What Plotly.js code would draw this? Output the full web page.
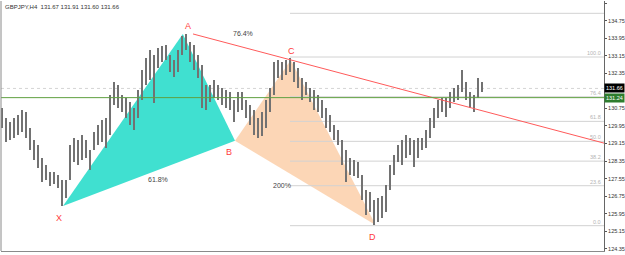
<!DOCTYPE html>
<html>
<head>
<meta charset="utf-8">
<script src="https://cdn.plot.ly/plotly-3.0.1.min.js"></script>
<style>html,body{margin:0;padding:0;background:#fff;}#chart{width:625px;height:255px;}</style>
</head>
<body>
<div id="chart"></div>
<script>
// ---- data ----
const titleText = 'GBPJPY,H4  131.67 131.91 131.60 131.66';
// 4-hour bar highs / lows (one entry per 4 px column of the reference)
const highs = [130.77,130.31,130.13,130.31,130.45,130.68,130.59,129.86,129.31,129.08,
  128.49,128.17,127.85,127.85,127.72,127.49,127.49,129.08,129.40,129.31,
  129.54,129.31,128.86,129.68,130.00,130.22,130.31,131.36,131.95,131.82,
  131.36,131.22,131.04,130.77,131.59,132.50,133.05,133.41,133.18,133.50,
  133.59,133.64,133.18,132.96,133.41,134.05,134.14,133.77,133.64,133.18,
  132.73,131.82,131.82,132.04,131.82,131.68,131.59,131.50,131.13,131.50,
  131.50,131.13,130.91,130.68,130.31,130.59,131.13,131.68,132.86,132.96,
  132.86,132.96,133.05,132.86,132.59,132.14,131.95,131.68,131.59,131.36,
  131.13,130.77,130.45,130.00,129.77,129.31,128.86,128.49,128.40,128.31,
  127.72,127.04,126.94,126.58,126.67,126.76,127.26,128.17,128.63,129.08,
  129.31,129.54,129.40,129.31,129.40,129.40,129.77,130.31,130.77,131.13,
  131.22,131.22,131.50,131.68,131.82,132.50,131.95,131.50,131.36,132.14,131.95];
const lows = [129.86,129.22,129.31,129.40,129.54,129.68,129.40,128.86,128.40,128.04,
  127.40,127.49,127.22,127.31,127.13,126.31,126.67,127.49,128.31,128.17,
  128.40,128.49,127.95,128.86,129.08,129.22,128.95,129.54,130.91,130.77,
  130.59,130.31,130.00,129.77,130.31,131.13,131.82,132.04,131.00,132.59,
  132.86,132.96,132.41,132.18,132.41,133.18,133.41,132.86,132.50,132.14,
  130.77,130.68,131.04,131.22,131.13,130.91,130.77,130.68,130.13,130.59,
  130.68,130.31,130.00,129.54,129.40,129.49,129.86,130.59,131.36,132.14,
  132.04,132.27,132.41,131.95,131.68,131.13,131.36,131.04,130.68,130.59,
  130.31,129.86,129.68,129.31,129.08,128.17,127.40,127.72,127.67,127.58,
  126.58,125.90,126.03,125.44,125.58,125.76,126.03,127.04,127.72,128.31,
  128.17,128.49,128.63,128.08,128.49,128.86,128.95,129.40,129.86,130.31,
  130.59,130.36,130.77,131.04,131.13,131.50,131.13,130.77,130.59,131.22,131.50];

// harmonic pattern points (bar position, price)
const pointNames = ['X','A','B','C','D'];
const pointBars = [15.25, 45.2, 58.25, 72.2, 93.4];
const pointPrices = [126.31, 134.14, 129.28, 132.95, 125.44];
const ratioLabels = ['61.8%', '76.4%', '200%'];

// fibonacci levels drawn from C to D
const fibNames = ['', '100.0', '76.4', '61.8', '50.0', '38.2', '23.6', '0.0'];
const fibPrices = [135.08, 133.09, 131.28, 130.16, 129.25, 128.35, 127.23, 125.41];
const fibStartBar = 72;

// A-C trend line (ray to the right edge)
const trendBars = [47.75, 150.5];
const trendPrices = [134.14, 129.17];

const bidPrice = 131.66;
const hLinePrice = 131.24;
const tickVals = [135.55,134.75,133.95,133.15,132.35,130.75,129.95,129.15,128.35,127.55,126.75,125.95,125.15,124.35];

// ---- drawing ----
const FONT = 'Liberation Sans, Arial, sans-serif';
const xMax = 150.5;
const idx = highs.map((_, i) => i);

const bars = {
  type: 'bar', x: idx, base: lows, y: highs.map((h, i) => h - lows[i]),
  width: 0.55, marker: {color: '#727272', line: {width: 0}},
  hoverinfo: 'skip', showlegend: false
};
const trend = {
  type: 'scatter', mode: 'lines', x: trendBars, y: trendPrices,
  line: {color: '#ff5a5a', width: 1}, hoverinfo: 'skip', showlegend: false
};

function tri(a, b, c) {
  return 'M' + pointBars[a] + ',' + pointPrices[a] +
         ' L' + pointBars[b] + ',' + pointPrices[b] +
         ' L' + pointBars[c] + ',' + pointPrices[c] + ' Z';
}

const shapes = [
  {type: 'path', xref: 'x', yref: 'y', path: tri(0, 1, 2), fillcolor: '#40e0d0', line: {width: 0}, layer: 'below'},
  {type: 'path', xref: 'x', yref: 'y', path: tri(2, 3, 4), fillcolor: '#fcd6b6', line: {width: 0}, layer: 'below'},
  {type: 'line', xref: 'paper', yref: 'y', x0: 0, x1: 1, y0: bidPrice, y1: bidPrice, line: {color: '#d4d4d4', width: 1, dash: 'dot'}, layer: 'below'}
];
fibPrices.forEach(p => shapes.push({type: 'line', xref: 'x', yref: 'y', x0: fibStartBar, x1: xMax, y0: p, y1: p, line: {color: '#d2d2d2', width: 1}, layer: 'below'}));
shapes.push({type: 'line', xref: 'paper', yref: 'y', x0: 0, x1: 1, y0: hLinePrice, y1: hLinePrice, line: {color: '#5fa040', width: 1}, layer: 'above'});
// frame
shapes.push({type: 'line', xref: 'paper', yref: 'paper', x0: 0, x1: 0, y0: 0, y1: 1, line: {color: '#8a8a8a', width: 1}});

const annotations = [];
annotations.push({xref: 'paper', yref: 'paper', x: 0, y: 1, xanchor: 'left', yanchor: 'top', xshift: 2, yshift: -1,
  text: titleText, showarrow: false, font: {family: FONT, size: 6, color: '#333'}});

const letterShift = [[-4, -12], [5, 8], [-6, -11], [1, 9], [-3, -12]];
pointNames.forEach((n, i) => annotations.push({x: pointBars[i], y: pointPrices[i], text: n, showarrow: false,
  xshift: letterShift[i][0], yshift: letterShift[i][1], font: {family: FONT, size: 9, color: '#ff3b3b'}}));

const ratioPairs = [[0, 2], [1, 3], [2, 4]];
const ratioShift = [[9, -6], [6, 14], [-23, -3]];
ratioLabels.forEach((t, k) => {
  const a = ratioPairs[k][0], b = ratioPairs[k][1];
  annotations.push({x: (pointBars[a] + pointBars[b]) / 2, y: (pointPrices[a] + pointPrices[b]) / 2, text: t,
    showarrow: false, xshift: ratioShift[k][0], yshift: ratioShift[k][1], font: {family: FONT, size: 7, color: '#444'}});
});

fibNames.forEach((n, i) => { if (n) annotations.push({xref: 'paper', x: 1, y: fibPrices[i], xanchor: 'right', yanchor: 'bottom',
  xshift: -1, yshift: -1, text: n, showarrow: false, font: {family: FONT, size: 5.5, color: '#b4b4b4'}}); });

annotations.push({xref: 'paper', x: 1, y: bidPrice, xanchor: 'left', yanchor: 'middle', xshift: 0, text: bidPrice.toFixed(2),
  showarrow: false, bgcolor: '#000', borderpad: 1, font: {family: FONT, size: 5.5, color: '#fff'}});
annotations.push({xref: 'paper', x: 1, y: hLinePrice, xanchor: 'left', yanchor: 'middle', xshift: 0, text: hLinePrice.toFixed(2),
  showarrow: false, bgcolor: '#2e7d2e', borderpad: 1, font: {family: FONT, size: 5.5, color: '#fff'}});

const layout = {
  width: 625, height: 255,
  margin: {l: 1, r: 21, t: 1, b: 4, pad: 0},
  paper_bgcolor: '#fff', plot_bgcolor: '#fff',
  showlegend: false, bargap: 0,
  xaxis: {range: [-0.25, xMax], showgrid: false, zeroline: false, showticklabels: false, ticks: '',
    showline: true, linecolor: '#8a8a8a', linewidth: 1, fixedrange: true},
  yaxis: {range: [124.257, 135.641], side: 'right', showgrid: false, zeroline: false,
    tickmode: 'array', tickvals: tickVals, tickformat: '.2f', ticks: 'outside', ticklen: 2, tickcolor: '#555',
    tickfont: {family: FONT, size: 5.5, color: '#333'}, showline: true, linecolor: '#666', linewidth: 1, fixedrange: true},
  shapes: shapes,
  annotations: annotations
};

Plotly.newPlot('chart', [bars, trend], layout, {displayModeBar: false, staticPlot: true});
</script>
</body>
</html>
